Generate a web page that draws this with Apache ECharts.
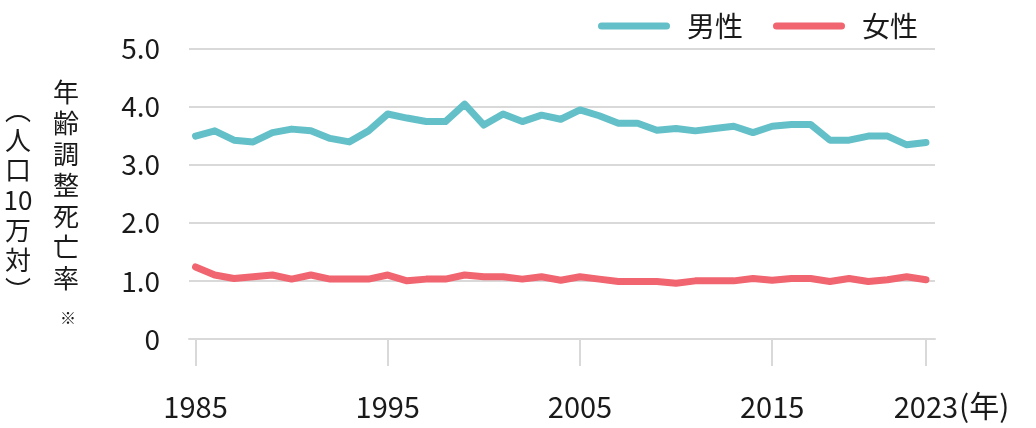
<!DOCTYPE html>
<html>
<head>
<meta charset="utf-8">
<script src="https://cdn.jsdelivr.net/npm/echarts@6/dist/echarts.min.js"></script>
<style>
html,body{margin:0;padding:0;background:#fff;}
#c{width:1036px;height:428px;}
</style>
</head>
<body>
<div id="c"></div>
<script>
const years = [1985,1986,1987,1988,1989,1990,1991,1992,1993,1994,1995,1996,1997,1998,1999,2000,2001,2002,2003,2004,2005,2006,2007,2008,2009,2010,2011,2012,2013,2014,2015,2016,2017,2018,2019,2020,2021,2022,2023];
const male = [3.49,3.58,3.42,3.39,3.55,3.61,3.58,3.45,3.39,3.58,3.87,3.80,3.74,3.74,4.04,3.68,3.87,3.74,3.85,3.78,3.94,3.84,3.71,3.71,3.59,3.62,3.58,3.62,3.66,3.55,3.66,3.69,3.69,3.42,3.42,3.49,3.49,3.34,3.38];
const female = [1.24,1.10,1.04,1.07,1.10,1.03,1.10,1.03,1.03,1.03,1.10,1.00,1.03,1.03,1.10,1.07,1.07,1.03,1.07,1.01,1.07,1.03,0.99,0.99,0.99,0.96,1.00,1.00,1.00,1.04,1.01,1.04,1.04,0.99,1.04,0.99,1.02,1.07,1.02];
const xTicks = [1985,1995,2005,2015,2023];
const seriesNames = ['男性','女性'];
const yLabelMain = ['年','齢','調','整','死','亡','率'];
const yLabelUnit = ['︵','人','口','10','万','対','︶'];

const FONT = '"Noto Sans CJK JP","Noto Sans",sans-serif';
const TEXT = '#1a1a1a';
const GRID = '#d9d9d9';
const C_MALE = '#64c0c8';
const C_FEMALE = '#f0656f';

const chart = echarts.init(document.getElementById('c'), null, {renderer:'canvas'});
const legendIcon = 'path://M3.5,0 L68.5,0 A3.5,3.5 0 0 1 68.5,7 L3.5,7 A3.5,3.5 0 0 1 3.5,0 Z';

chart.setOption({
  animation:false,
  backgroundColor:'#fff',
  textStyle:{fontFamily:FONT},
  grid:{left:189, right:101, top:48.3, bottom:89},
  legend:{
    left:593, top:7,
    itemWidth:72, itemHeight:7, itemGap:30,
    icon:legendIcon,
    textStyle:{fontSize:28, color:TEXT, fontFamily:FONT, padding:[0,0,0,12]},
    data:seriesNames
  },
  xAxis:{
    type:'value',
    min:1984.66, max:2023.47,
    axisLine:{show:true, lineStyle:{color:GRID, width:2}},
    axisTick:{show:true, length:27, customValues:xTicks, lineStyle:{color:GRID, width:2}},
    axisLabel:{customValues:xTicks, fontSize:29, color:TEXT, fontFamily:FONT, margin:53,
      formatter:v=>String(v)},
    splitLine:{show:false}
  },
  yAxis:{
    type:'value', min:0, max:5, interval:1,
    axisLine:{show:false}, axisTick:{show:false},
    axisLabel:{fontSize:28, color:TEXT, fontFamily:FONT, margin:29,
      formatter:v=> v===0 ? '0' : v.toFixed(1)},
    splitLine:{lineStyle:{color:GRID, width:2}}
  },
  series:[
    {name:seriesNames[0], type:'line', symbol:'none', color:C_MALE,
     lineStyle:{width:7, cap:'round', join:'round'},
     data:years.map((y,i)=>[y,male[i]])},
    {name:seriesNames[1], type:'line', symbol:'none', color:C_FEMALE,
     lineStyle:{width:7, cap:'round', join:'round'},
     data:years.map((y,i)=>[y,female[i]])}
  ],
  graphic:[
    {type:'text', left:959, top:391, style:{text:'(年)', fontSize:30, fill:TEXT, fontFamily:FONT}},
    {type:'text', x:66, y:77, style:{text:yLabelMain.join('\n'), fontSize:26, lineHeight:31, fill:TEXT, fontFamily:FONT, align:'center', verticalAlign:'top'}},
    {type:'text', x:68, y:310, style:{text:'※', fontSize:16, fill:TEXT, fontFamily:FONT, align:'center', verticalAlign:'top'}},
    {type:'text', x:18, y:95, style:{text:yLabelUnit.join('\n'), fontSize:26, lineHeight:30, fill:TEXT, fontFamily:FONT, align:'center', verticalAlign:'top'}}
  ]
});
</script>
</body>
</html>
